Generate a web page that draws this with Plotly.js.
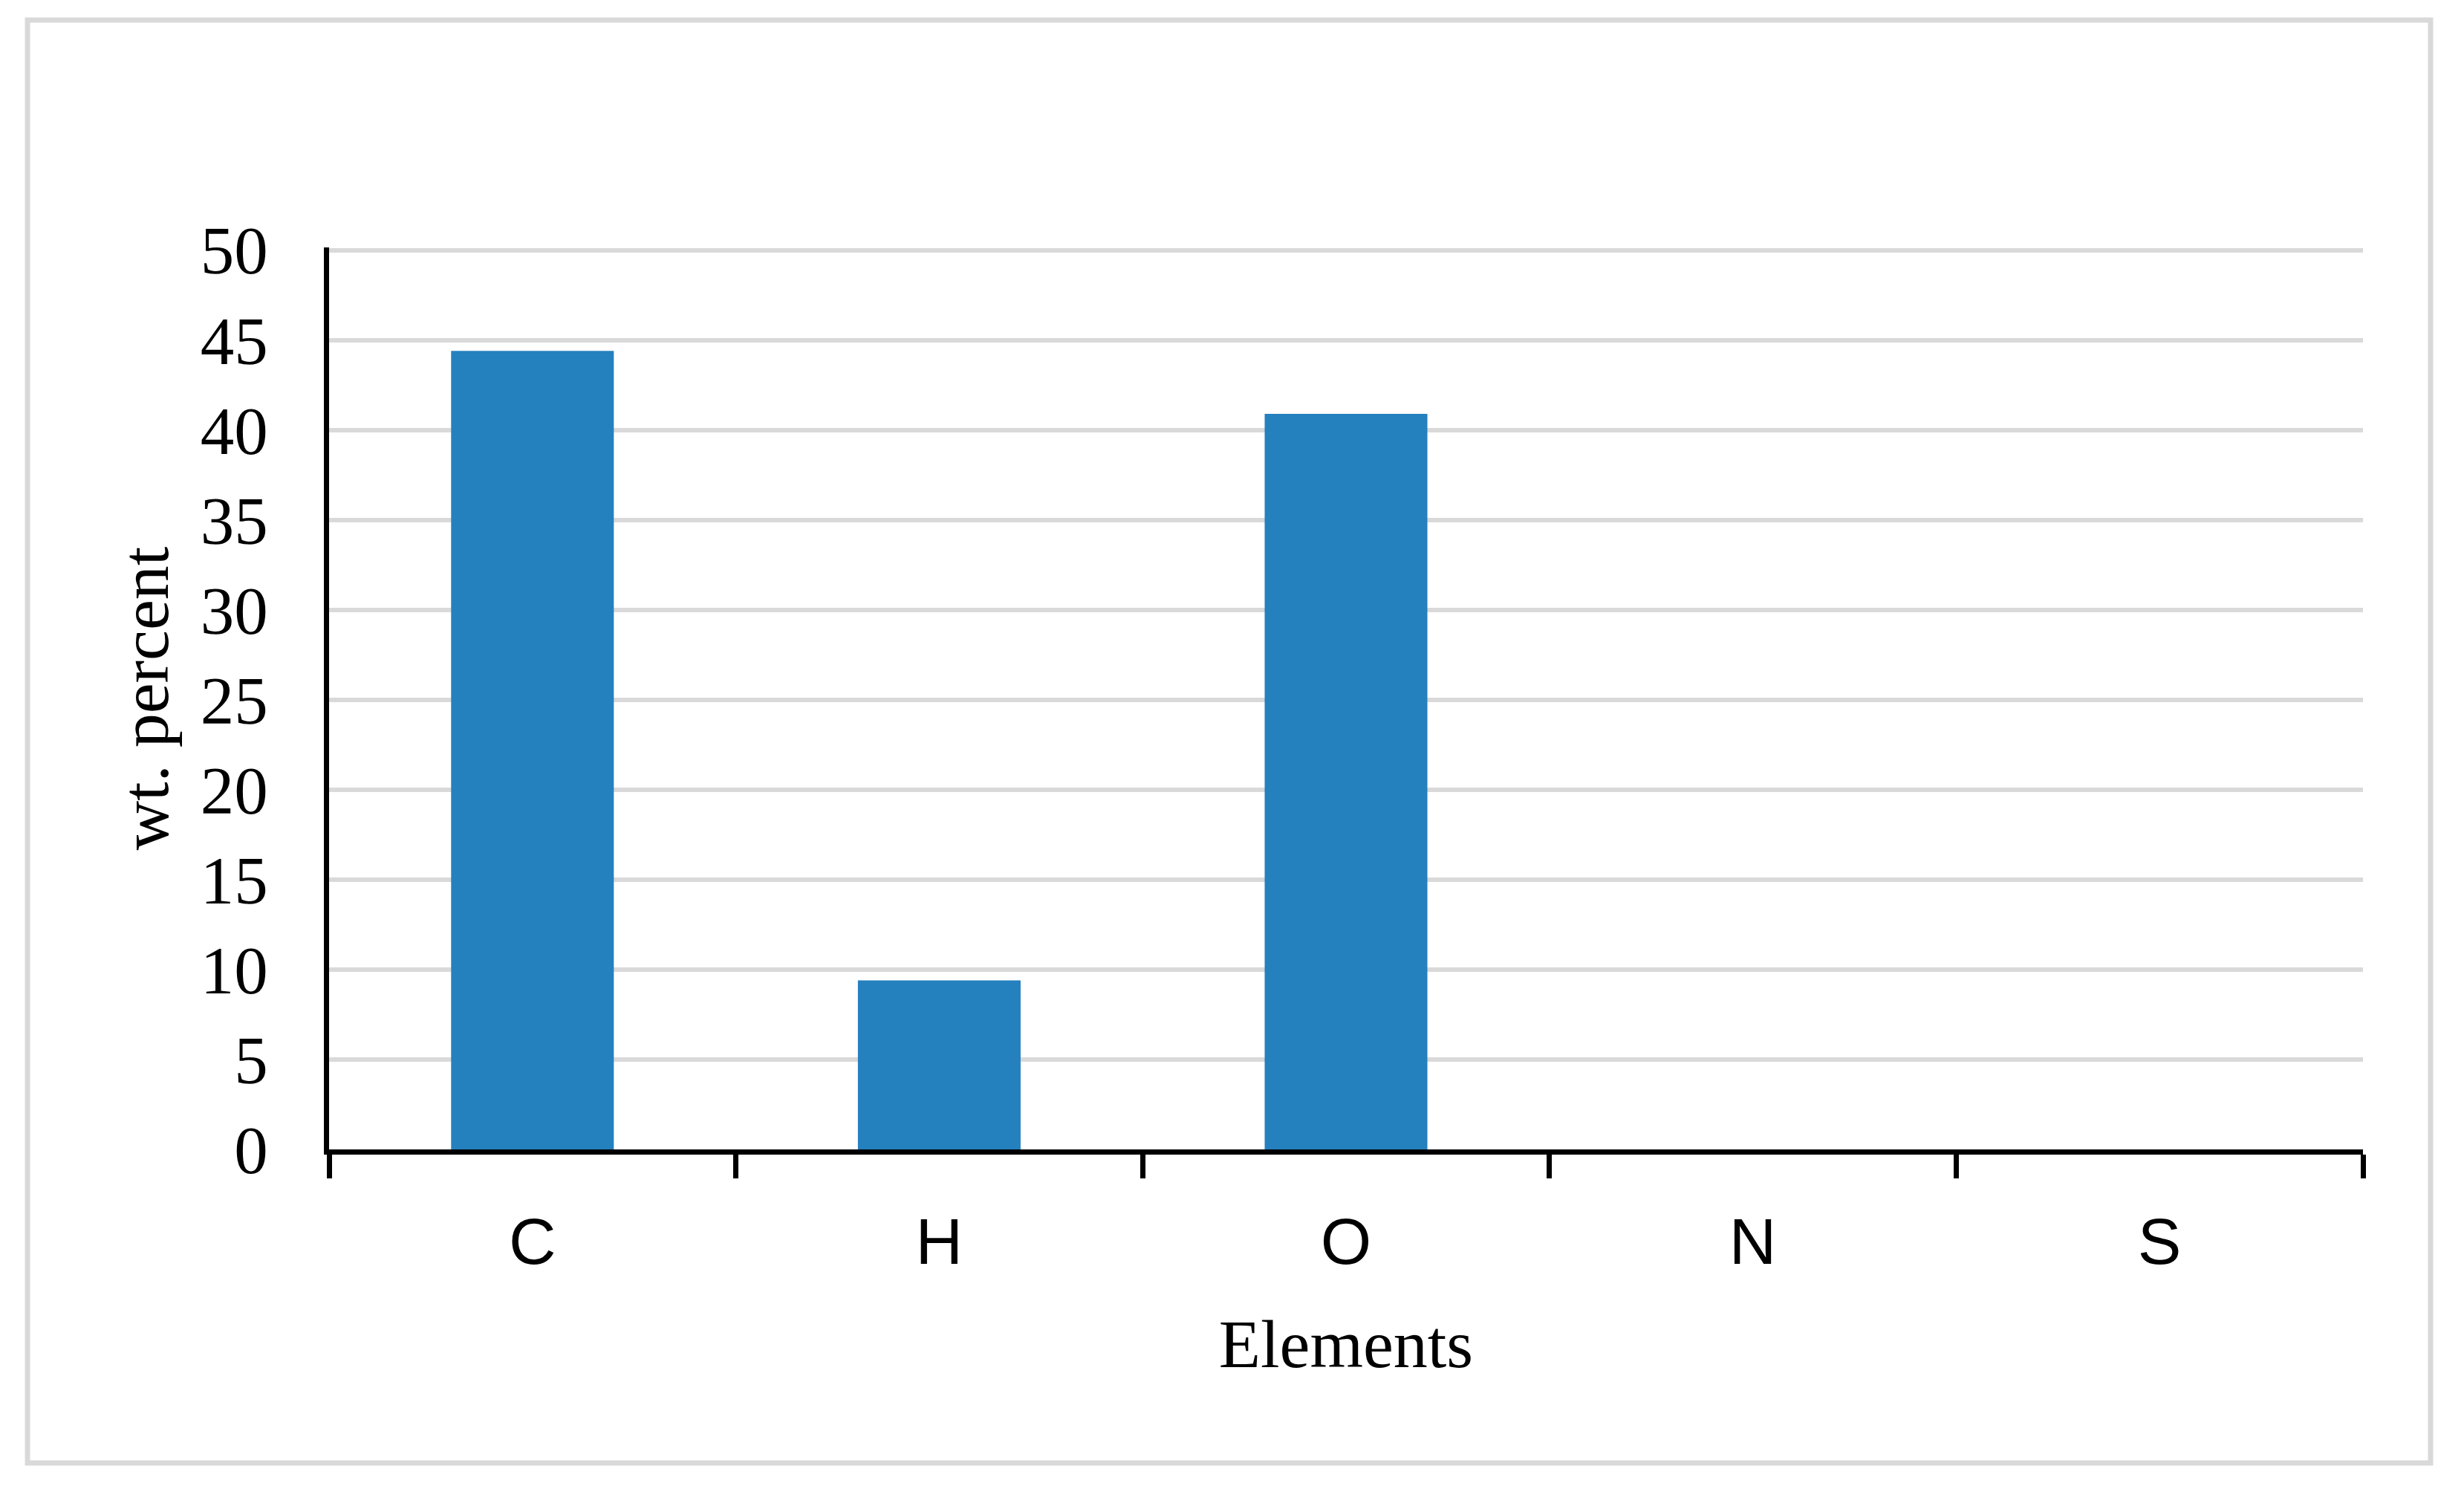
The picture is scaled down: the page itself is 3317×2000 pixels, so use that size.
<!DOCTYPE html>
<html>
<head>
<meta charset="utf-8">
<script src="https://cdn.plot.ly/plotly-3.0.1.min.js"></script>
<style>
  html, body { margin: 0; padding: 0; background: #fff; }
  #chart { width: 3317px; height: 2000px; }
</style>
</head>
<body>
<div id="chart"></div>
<script>
// data
var elements = ['C', 'H', 'O', 'N', 'S'];
var wtPercent = [44.4, 9.4, 40.9, 0, 0];
var yTicks = [0, 5, 10, 15, 20, 25, 30, 35, 40, 45, 50];

var serif = '"Liberation Serif", "Times New Roman", serif';
var sans = '"Liberation Sans", Arial, sans-serif';

// plot area in pixels
var L = 443, R = 136, T = 333, B = 453;
var W = 3317 - L - R, H = 2000 - T - B;
function px2x(p) { return (p - L) / W; }
function px2y(p) { return (2000 - B - p) / H; }

var bars = {
  x: elements,
  y: wtPercent,
  type: 'bar',
  marker: {color: '#2580be'},
  hoverinfo: 'x+y'
};

var layout = {
  width: 3317,
  height: 2000,
  paper_bgcolor: '#ffffff',
  plot_bgcolor: '#ffffff',
  margin: {l: L, r: R, t: T, b: B, pad: 0},
  bargap: 0.6,
  showlegend: false,
  xaxis: {
    type: 'category',
    showline: true,
    linecolor: '#000000',
    linewidth: 7,
    showgrid: false,
    zeroline: false,
    ticks: 'outside',
    tickson: 'boundaries',
    ticklen: 32,
    tickwidth: 7,
    tickcolor: '#000000',
    ticklabelstandoff: 41,
    tickfont: {family: sans, size: 88, color: '#000000'},
    title: {text: 'Elements', font: {family: serif, size: 92, color: '#000000'}, standoff: 60}
  },
  yaxis: {
    range: [0, 50.15],
    tickvals: yTicks,
    ticktext: yTicks.map(String),
    showline: true,
    linecolor: '#000000',
    linewidth: 7,
    showgrid: true,
    gridcolor: '#d9d9d9',
    gridwidth: 6,
    zeroline: false,
    ticks: '',
    ticklabelstandoff: 57,
    tickfont: {family: serif, size: 91, color: '#000000'},
    title: {text: 'wt. percent', font: {family: serif, size: 92, color: '#000000'}, standoff: 15}
  },
  // light grey frame round the whole chart
  shapes: [{
    type: 'rect',
    xref: 'paper', yref: 'paper',
    x0: px2x(37), x1: px2x(3272),
    y0: px2y(1969), y1: px2y(27),
    line: {color: '#d9d9d9', width: 7},
    fillcolor: 'rgba(0,0,0,0)',
    layer: 'below'
  }]
};

Plotly.newPlot('chart', [bars], layout, {displayModeBar: false, staticPlot: true});
</script>
</body>
</html>
